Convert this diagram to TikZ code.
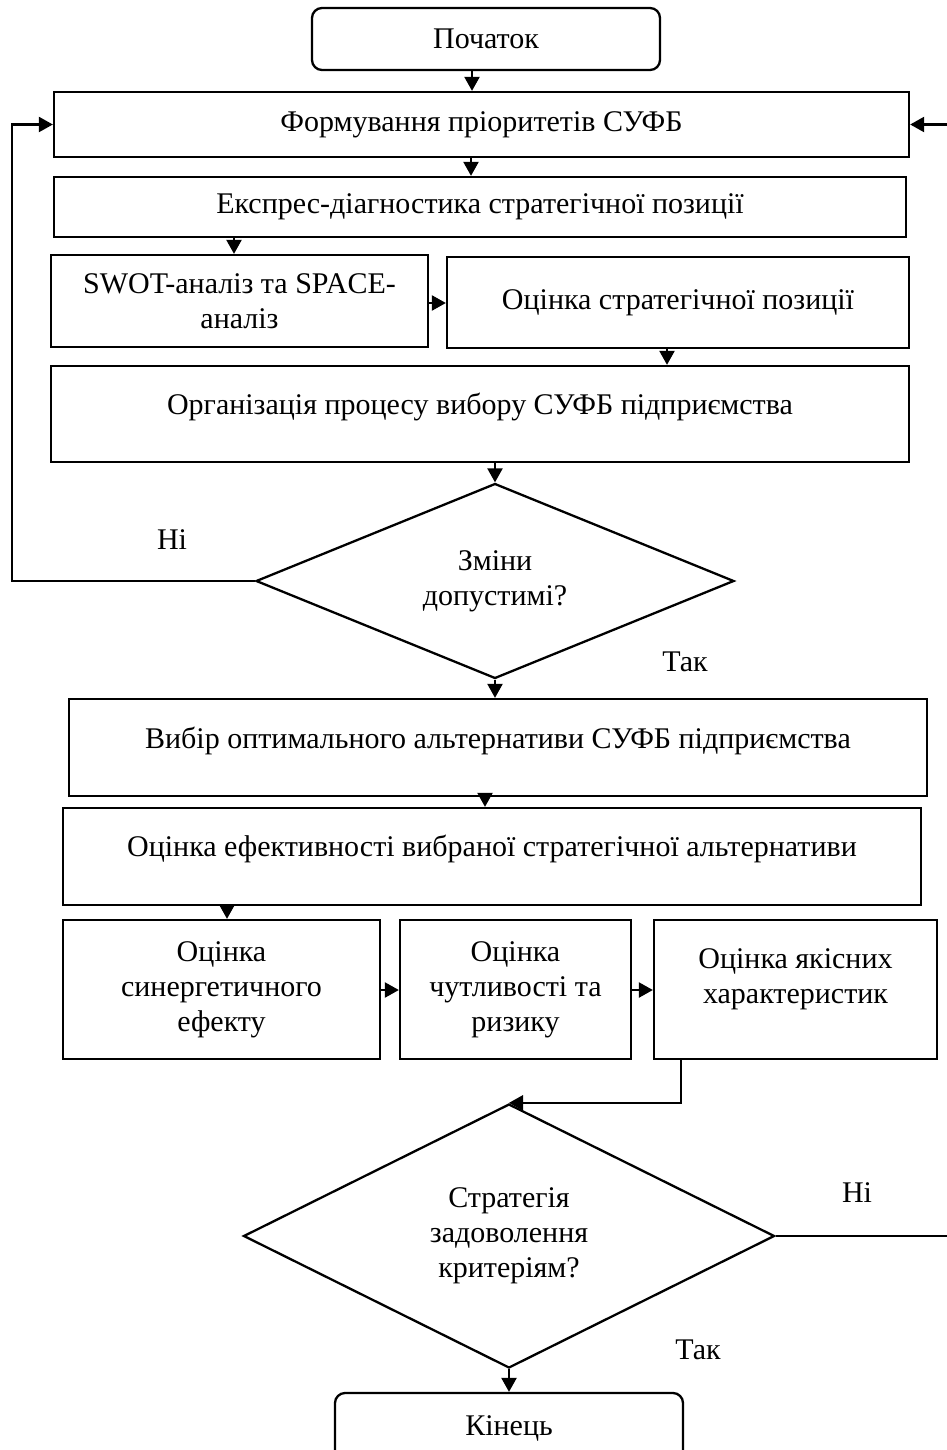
\documentclass[tikz,border=0pt]{standalone}
\usepackage{fontspec}
\setmainfont{Liberation Serif}
\usetikzlibrary{arrows.meta,shapes.geometric,calc}
\begin{document}
\begin{tikzpicture}[x=1pt,y=-1pt,
  txt/.style={font=\fontsize{30}{35}\selectfont},
  box/.style={txt, draw, line width=2.3pt, inner sep=0pt, align=center},
  term/.style={box, rounded corners=10pt},
  dec/.style={txt, draw, diamond, line width=2.3pt, inner sep=0pt, align=center},
  lbl/.style={txt, inner sep=0pt},
  arr/.style={line width=2.3pt, -{Triangle[length=14pt,width=15pt]}},
  ln/.style={line width=2.3pt}]
\useasboundingbox (0,0) rectangle (947,1450);

\node[term, minimum width=348, minimum height=62] (start) at (486,39) {Початок};
\node[box, minimum width=855, minimum height=65] (frm) at (481.5,124.5) {Формування пріоритетів СУФБ};
\node[box, minimum width=852, minimum height=60] (exp) at (480,207) {Експрес-діагностика стратегічної позиції};
\node[box, minimum width=377, minimum height=92] (swot) at (239.5,301) {SWOT-аналіз та SPACE-\\аналіз};
\node[box, minimum width=462, minimum height=91] (ocp) at (678,302.5) {Оцінка стратегічної позиції};
\node[box, minimum width=858, minimum height=96, text depth=20pt] (org) at (480,414) {Організація процесу вибору СУФБ підприємства};
\node[dec, aspect=2.45, minimum width=478, minimum height=195] (d1) at (495,581) {Зміни\\допустимі?};
\node[box, minimum width=858, minimum height=97, text depth=20pt] (vyb) at (498,747.5) {Вибір оптимального альтернативи СУФБ підприємства};
\node[box, minimum width=858, minimum height=97, text depth=22pt] (eff) at (492,856.5) {Оцінка ефективності вибраної стратегічної альтернативи};
\node[box, minimum width=317, minimum height=139] (ca) at (221.5,989.5) {Оцінка\\синергетичного\\ефекту};
\node[box, minimum width=231, minimum height=139] (cb) at (515.5,989.5) {Оцінка\\чутливості та\\ризику};
\node[box, minimum width=283, minimum height=139, text depth=26pt] (cc) at (795.5,989.5) {Оцінка якісних\\характеристик};
\node[dec, aspect=2.01, minimum width=531, minimum height=264] (d2) at (509,1236) {Стратегія\\задоволення\\критеріям?};
\node[term, minimum width=348, minimum height=70] (fin) at (509,1428) {Кінець};

\node[lbl] (no1) at (172,540) {Ні};
\node[lbl] (yes1) at (685,662) {Так};
\node[lbl] (no2) at (857,1193) {Ні};
\node[lbl] (yes2) at (698,1350) {Так};

\coordinate (lx) at (12,581);
\coordinate (rx) at (950,1236);

\draw[arr] (start.south -| 472,0) -- (frm.north -| 472,0);
\draw[arr] (frm.south -| 471,0) -- (exp.north -| 471,0);
\draw[arr] (exp.south -| 234,0) -- (swot.north -| 234,0);
\draw[arr] (swot.east |- 0,303) -- (ocp.west |- 0,303);
\draw[arr] (ocp.south -| 667,0) -- (org.north -| 667,0);
\draw[arr] (org.south -| d1.north) -- (d1.north);
\draw[arr] (d1.south) -- (vyb.north -| d1.south);
\draw[arr] (vyb.south -| 485,0) -- (eff.north -| 485,0);
\draw[arr] (eff.south -| 227,0) -- (ca.north -| 227,0);
\draw[arr] (ca.east |- 0,990) -- (cb.west |- 0,990);
\draw[arr] (cb.east |- 0,990) -- (cc.west |- 0,990);
\draw[arr] (cc.south -| 681,0) |- (d2.north);
\draw[arr] (d2.south) -- (fin.north);
\draw[arr] (d1.west) -| (lx) |- (frm.west);
\draw[arr] (d2.east) -| (rx) |- (frm.east);
\end{tikzpicture}
\end{document}
